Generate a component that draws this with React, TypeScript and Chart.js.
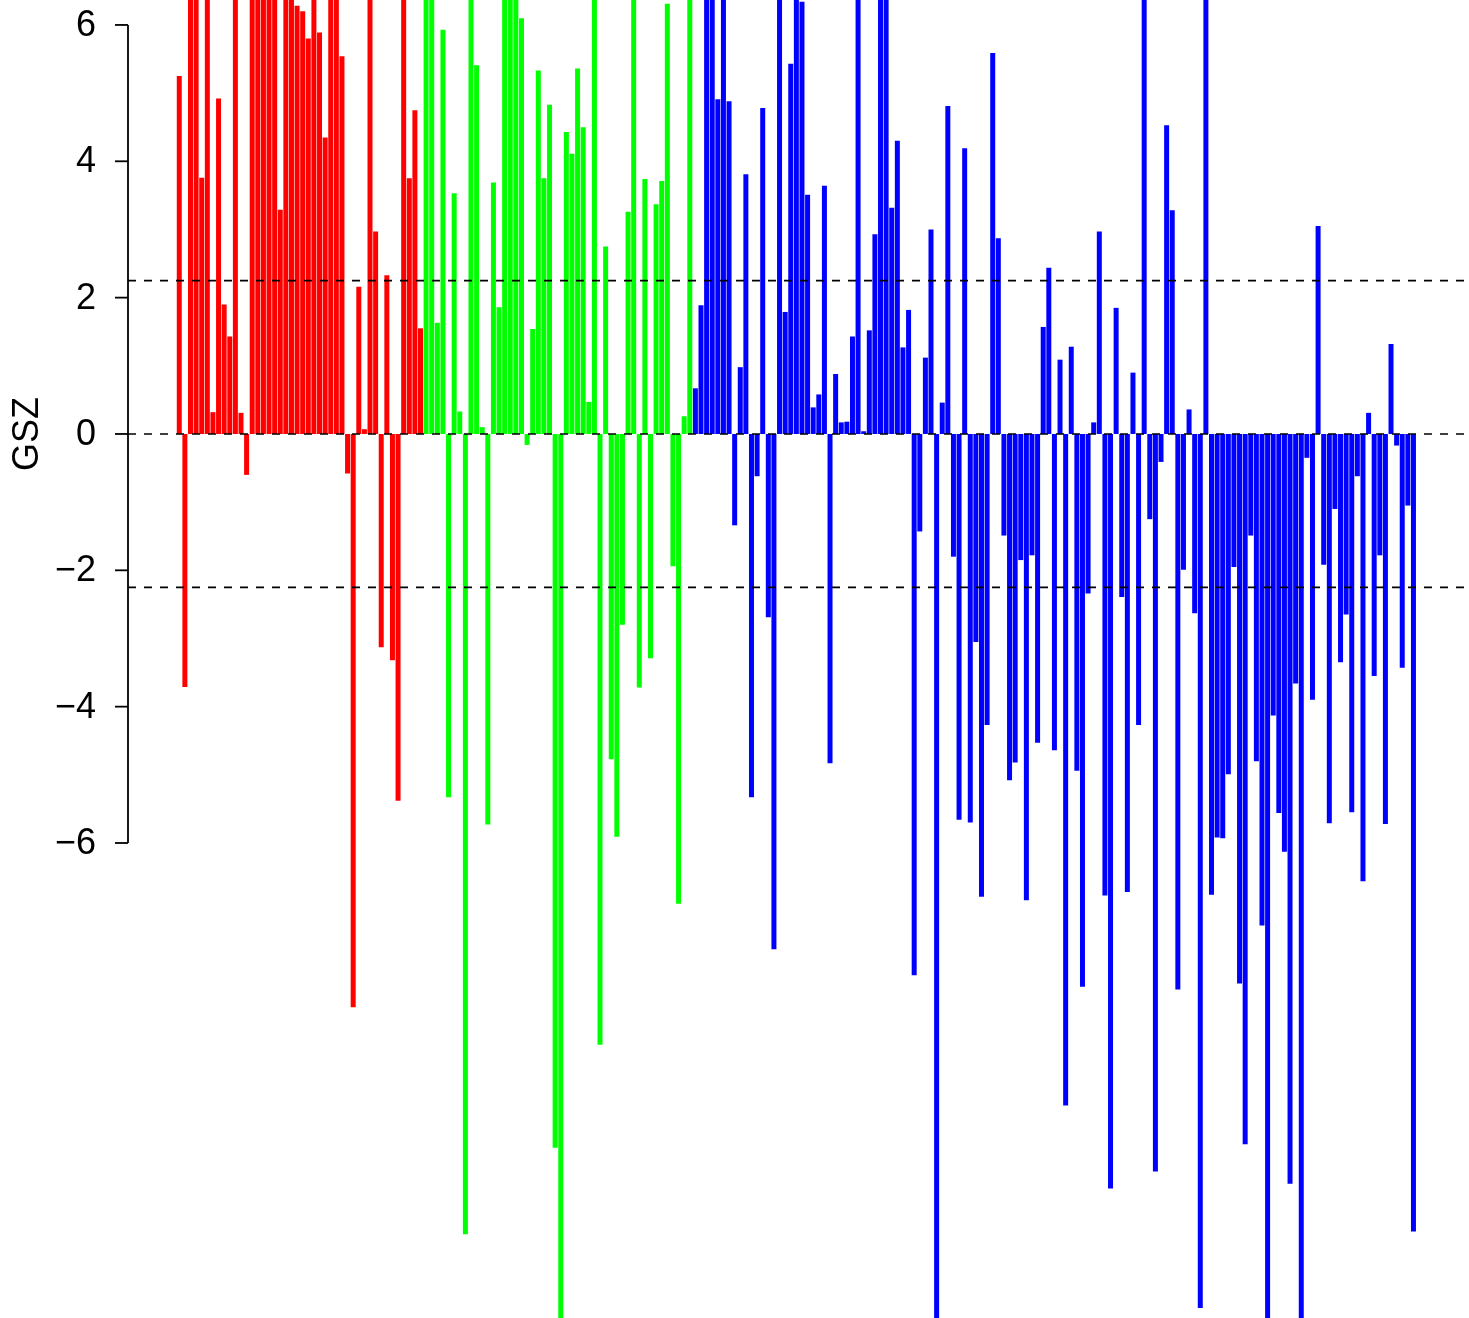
import React, { useEffect, useRef } from "react";
import { Chart, registerables } from "chart.js";

Chart.register(...registerables);

// GSZ scores per gene set, in plot order (values beyond the visible range are clipped in the picture)
const redValues = [
  5.25, -3.71, 8.0, 9.0, 3.76, 7.5, 0.32, 4.92, 1.9, 1.43,
  8.5, 0.31, -0.6, 9.5, 8.2, 10.1, 7.4, 8.8, 3.29, 7.9,
  9.2, 6.28, 6.2, 5.8, 7.1, 5.89, 4.35, 8.6, 7.7, 5.54,
  -0.58, -8.41, 2.16, 0.07, 7.3, 2.97, -3.13, 2.33, -3.32, -5.38,
  8.1, 3.75, 4.75, 1.55,
];

const greenValues = [
  8.4, 7.6, 1.63, 5.93, -5.33, 3.53, 0.33, -11.74, 7.2, 5.41,
  0.1, -5.73, 3.69, 1.86, 9.1, 7.8, 8.3, 6.1, -0.16, 1.54,
  5.33, 3.75, 4.83, -10.47, -13.6, 4.43, 4.11, 5.36, 4.5, 0.47,
  7.0, -8.96, 2.75, -4.77, -5.91, -2.8, 3.26, 8.9, -3.72, 3.74,
  -3.29, 3.37, 3.71, 6.31, -1.94, -6.89, 0.26, 9.4,
];

const blueValues = [
  0.67, 1.89, 8.7, 9.6, 4.91, 7.3, 4.88, -1.34, 0.98, 3.81,
  -5.33, -0.62, 4.78, -2.69, -7.56, 8.0, 1.79, 5.43, 10.2, 6.34,
  3.51, 0.39, 0.58, 3.64, -4.83, 0.88, 0.17, 0.18, 1.43, 8.6,
  0.04, 1.52, 2.93, 9.0, 7.5, 3.32, 4.3, 1.27, 1.82, -7.94,
  -1.43, 1.12, 3.0, -14.2, 0.46, 4.81, -1.8, -5.66, 4.19, -5.7,
  -3.05, -6.79, -4.27, 5.59, 2.87, -1.49, -5.08, -4.82, -1.85, -6.84,
  -1.78, -4.53, 1.57, 2.44, -4.64, 1.09, -9.85, 1.28, -4.94, -8.11,
  -2.34, 0.17, 2.97, -6.77, -11.07, 1.85, -2.39, -6.72, 0.9, -4.27,
  8.3, -1.25, -10.82, -0.41, 4.53, 3.28, -8.15, -1.99, 0.36, -2.63,
  -12.82, 9.8, -6.76, -5.92, -5.93, -4.99, -1.95, -8.06, -10.42, -1.49,
  -4.8, -7.21, -13.8, -4.13, -5.56, -6.13, -11.0, -3.66, -13.3, -0.35,
  -3.9, 3.05, -1.92, -5.71, -1.1, -3.35, -2.65, -5.55, -0.62, -6.56,
  0.31, -3.55, -1.78, -5.72, 1.32, -0.17, -3.43, -1.05, -11.7,
];

const groupColors = ["#FF0000", "#00FF00", "#0000FF"];
const yTicks = [-6, -4, -2, 0, 2, 4, 6];
const thresholds = [-2.25, 0, 2.25];
const yTitle = "GSZ";

const FONT = '"Liberation Sans", Arial, sans-serif';

export default function App() {
  const canvasRef = useRef<HTMLCanvasElement | null>(null);

  useEffect(() => {
    document.body.style.margin = "0";
    const canvas = canvasRef.current;
    if (!canvas) return;

    const groups = [redValues, greenValues, blueValues];
    const points: { x: number; y: number }[] = [];
    const colors: string[] = [];
    groups.forEach((arr, g) => {
      arr.forEach((v) => {
        points.push({ x: points.length, y: v });
        colors.push(groupColors[g]);
      });
    });

    const rAxisPlugin = {
      id: "rAxis",
      afterDatasetsDraw(chart: any) {
        const { ctx, chartArea } = chart;
        const y = chart.scales.y;
        ctx.save();
        // reference lines
        ctx.strokeStyle = "#000";
        ctx.lineWidth = 1.6;
        ctx.setLineDash([8, 8]);
        thresholds.forEach((v) => {
          const py = y.getPixelForValue(v);
          ctx.beginPath();
          ctx.moveTo(chartArea.left, py);
          ctx.lineTo(chartArea.right, py);
          ctx.stroke();
        });
        ctx.setLineDash([]);
        // axis line
        const x0 = chartArea.left;
        const top = y.getPixelForValue(yTicks[yTicks.length - 1]);
        const bottom = y.getPixelForValue(yTicks[0]);
        ctx.lineWidth = 1.8;
        ctx.beginPath();
        ctx.moveTo(x0, top);
        ctx.lineTo(x0, bottom);
        ctx.stroke();
        // ticks and labels
        ctx.fillStyle = "#000";
        ctx.font = `36px ${FONT}`;
        ctx.textAlign = "right";
        ctx.textBaseline = "middle";
        yTicks.forEach((t) => {
          const py = y.getPixelForValue(t);
          ctx.beginPath();
          ctx.moveTo(x0, py);
          ctx.lineTo(x0 - 13, py);
          ctx.stroke();
          const label = t < 0 ? "\u2212" + Math.abs(t) : String(t);
          ctx.fillText(label, x0 - 32, py + 1);
        });
        // axis title
        ctx.save();
        ctx.translate(28, (top + bottom) / 2);
        ctx.rotate(-Math.PI / 2);
        ctx.textAlign = "center";
        ctx.textBaseline = "middle";
        ctx.font = `36px ${FONT}`;
        ctx.fillText(yTitle, 0, 0);
        ctx.restore();
        ctx.restore();
      },
    };

    const chart = new Chart(canvas, {
      type: "bar",
      data: {
        datasets: [
          {
            data: points as any,
            backgroundColor: colors,
            borderWidth: 0,
            barPercentage: 0.89,
            categoryPercentage: 1,
          },
        ],
      },
      options: {
        animation: false,
        responsive: false,
        devicePixelRatio: 1,
        layout: { padding: { left: 128, right: 0, top: 0, bottom: 0 } },
        plugins: {
          legend: { display: false },
          tooltip: { enabled: false },
        },
        scales: {
          x: {
            type: "linear",
            display: false,
            min: -9.14,
            max: 229.9,
            offset: false,
          },
          y: {
            type: "linear",
            display: false,
            min: -12.968,
            max: 6.366,
          },
        },
      },
      plugins: [rAxisPlugin],
    });

    return () => chart.destroy();
  }, []);

  return (
    <div style={{ width: 1469, height: 1318 }}>
      <canvas ref={canvasRef} width={1469} height={1318} style={{ display: "block" }} />
    </div>
  );
}
